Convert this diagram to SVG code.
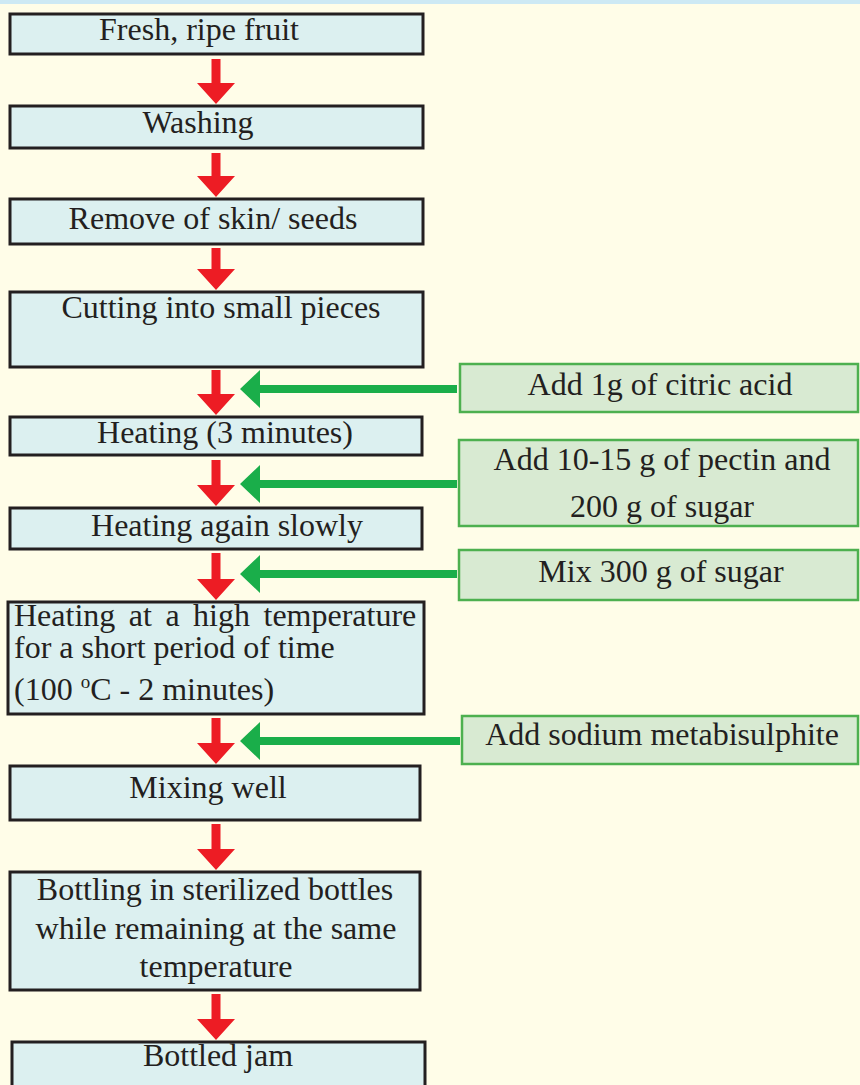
<svg xmlns="http://www.w3.org/2000/svg" width="860" height="1085" viewBox="0 0 860 1085">
<style>
.bg{fill:#fffde8}
.step{fill:#dcf0f0;stroke:#231f20;stroke-width:3}
.add{fill:#d8ead2;stroke:#4db04f;stroke-width:2.5}
.t{font-family:"Liberation Serif","Times New Roman",serif;font-size:32px;fill:#231f20;text-anchor:middle}
.tl{text-anchor:start}
.red{fill:#ed1c24}
.grn{fill:#1aae4a}
</style>
<rect class="bg" x="0" y="0" width="860" height="1085"/>
<rect x="0" y="0" width="860" height="4" fill="#cde9f4"/>
<g id="n1"><rect class="step" x="10" y="14" width="413" height="40"/><text class="t" x="199" y="40">Fresh, ripe fruit</text></g>
<g id="n2"><rect class="step" x="10" y="106" width="413" height="42"/><text class="t" x="198" y="133">Washing</text></g>
<g id="n3"><rect class="step" x="10" y="199" width="413" height="45"/><text class="t" x="213" y="229">Remove of skin/ seeds</text></g>
<g id="n4"><rect class="step" x="10" y="292" width="413" height="75"/><text class="t" x="221" y="318">Cutting into small pieces</text></g>
<g id="n5"><rect class="step" x="10" y="417" width="412" height="38"/><text class="t" x="225" y="443">Heating (3 minutes)</text></g>
<g id="n6"><rect class="step" x="10" y="508" width="412" height="41"/><text class="t" x="227" y="536">Heating again slowly</text></g>
<g id="n7"><rect class="step" x="8" y="602" width="416" height="112"/>
<text class="t tl" x="14" y="626" word-spacing="5.5">Heating at a high temperature</text>
<text class="t tl" x="14" y="658">for a short period of time</text>
<text class="t tl" x="14" y="700">(100 <tspan font-size="19" dy="-12">o</tspan><tspan dy="12">C - 2 minutes)</tspan></text></g>
<g id="n8"><rect class="step" x="10" y="766" width="410" height="54"/><text class="t" x="208" y="798">Mixing well</text></g>
<g id="n9"><rect class="step" x="10" y="872" width="410" height="118"/>
<text class="t" x="215" y="900">Bottling in sterilized bottles</text>
<text class="t" x="216" y="939">while remaining at the same</text>
<text class="t" x="216" y="977">temperature</text></g>
<g id="n10"><rect class="step" x="12" y="1042" width="413" height="50"/><text class="t" x="218" y="1066">Bottled jam</text></g>
<g id="a1"><rect class="add" x="460" y="364" width="398" height="48"/><text class="t" x="660" y="395">Add 1g of citric acid</text></g>
<g id="a2"><rect class="add" x="459" y="440" width="399" height="86"/><text class="t" x="662" y="470">Add 10-15 g of pectin and</text><text class="t" x="662" y="517">200 g of sugar</text></g>
<g id="a3"><rect class="add" x="459" y="550" width="399" height="50"/><text class="t" x="661" y="582">Mix 300 g of sugar</text></g>
<g id="a4"><rect class="add" x="462" y="716" width="396" height="48"/><text class="t" x="662" y="745">Add sodium metabisulphite</text></g>
<g id="connectors">
<path class="red" d="M211.5,59 h9 v24 h14.5 l-19,21 l-19,-21 h14.5 z"/>
<path class="red" d="M211.5,153 h9 v23 h14.5 l-19,21 l-19,-21 h14.5 z"/>
<path class="red" d="M211.5,248 h9 v21 h14.5 l-19,21 l-19,-21 h14.5 z"/>
<path class="red" d="M211.5,370 h9 v24 h14.5 l-19,21 l-19,-21 h14.5 z"/>
<path class="red" d="M211.5,460 h9 v25 h14.5 l-19,21 l-19,-21 h14.5 z"/>
<path class="red" d="M211.5,553 h9 v26 h14.5 l-19,21 l-19,-21 h14.5 z"/>
<path class="red" d="M211.5,718 h9 v25 h14.5 l-19,21 l-19,-21 h14.5 z"/>
<path class="red" d="M211.5,824 h9 v25 h14.5 l-19,21 l-19,-21 h14.5 z"/>
<path class="red" d="M211.5,994 h9 v25 h14.5 l-19,21 l-19,-21 h14.5 z"/>
<path class="grn" d="M457,385 H260 V370 L240,389 L260,408 V393 H457 z"/>
<path class="grn" d="M457,480 H260 V465 L240,484 L260,503 V488 H457 z"/>
<path class="grn" d="M457,570 H260 V555 L240,574 L260,593 V578 H457 z"/>
<path class="grn" d="M460,737 H260 V722 L240,741 L260,760 V745 H460 z"/>
</g>
</svg>
